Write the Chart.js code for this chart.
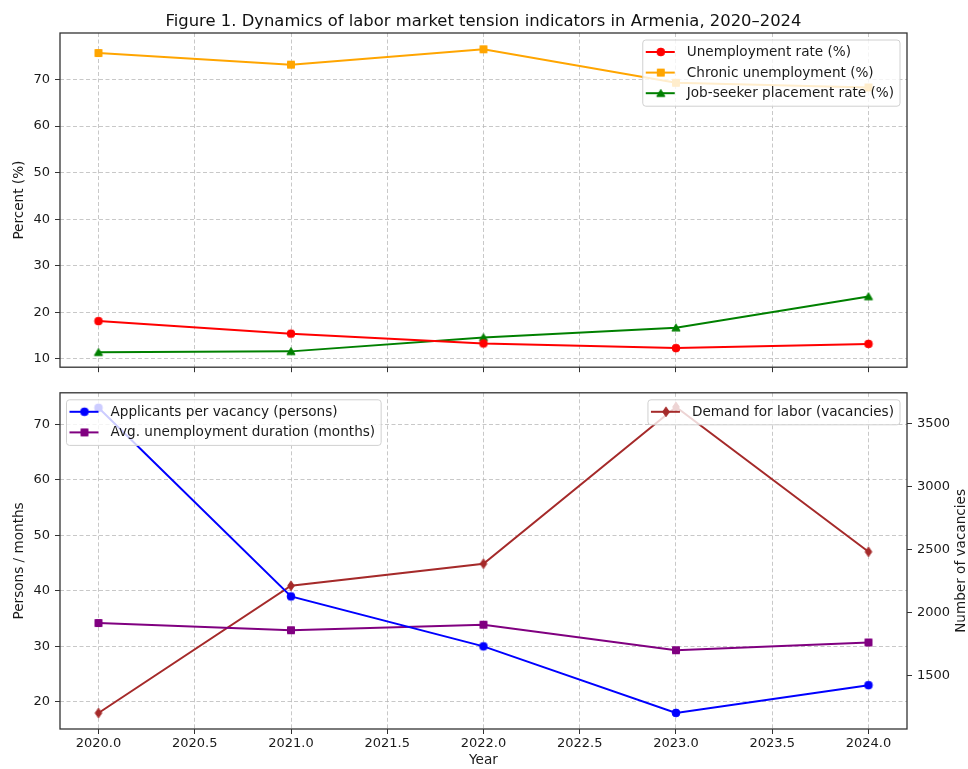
<!DOCTYPE html>
<html lang="en">
<head>
<meta charset="UTF-8"/>
<title>Labor market tension indicators, Armenia</title>
<style>
  html, body { margin: 0; padding: 0; background: #fff; }
  #wrap { position: relative; width: 968px; height: 769px; }
  canvas { position: absolute; left: 0; }
  #topChart { top: 0; }
  #bottomChart { top: 380px; }
</style>
</head>
<body>
<div id="wrap">
  <canvas id="topChart" width="968" height="380"></canvas>
  <canvas id="bottomChart" width="968" height="389"></canvas>
</div>
<script src="https://cdn.jsdelivr.net/npm/chart.js@4.4.1/dist/chart.umd.min.js"></script>
<script>
// values
const years = [2020, 2021, 2022, 2023, 2024]
const unemploymentRate = [18.1, 15.4, 13.3, 12.3, 13.2]
const chronicUnemployment = [75.7, 73.2, 76.5, 69.3, 68.3]
const placementRate = [11.4, 11.6, 14.6, 16.7, 23.4]
const applicantsPerVacancy = [73, 39, 30, 18, 23]
const avgDuration = [34.2, 32.9, 33.9, 29.3, 30.7]
const laborDemand = [1200, 2210, 2385, 3630, 2480]

const xTicks = [2020, 2020.5, 2021, 2021.5, 2022, 2022.5, 2023, 2023.5, 2024]
const percentTicks = [10, 20, 30, 40, 50, 60, 70]
const personsTicks = [20, 30, 40, 50, 60, 70]
const vacancyTicks = [1500, 2000, 2500, 3000, 3500]

const FONT = '"DejaVu Sans", sans-serif'
const LABEL_SIZE = 13.6
Chart.defaults.font.family = FONT
Chart.defaults.font.size = 13
Chart.defaults.color = '#1a1a1a'

// matplotlib-like markers as small canvases (used by points and legends)
function marker(shape, color) {
  const c = document.createElement('canvas')
  c.width = 12; c.height = 12
  const g = c.getContext('2d')
  g.fillStyle = color; g.strokeStyle = color; g.lineWidth = 1
  g.beginPath()
  if (shape === 'circle') g.arc(6, 6, 3.9, 0, Math.PI * 2)
  else if (shape === 'square') g.rect(2.5, 2.5, 7, 7)
  else if (shape === 'triangle') { g.moveTo(6, 2.3); g.lineTo(10.1, 9.2); g.lineTo(1.9, 9.2); g.closePath() }
  else if (shape === 'diamond') { g.moveTo(6, 1.2); g.lineTo(9.3, 6); g.lineTo(6, 10.8); g.lineTo(2.7, 6); g.closePath() }
  g.fill(); g.stroke()
  return c
}

function series(label, values, color, shape, axis) {
  return {
    label,
    data: years.map((x, i) => ({x, y: values[i]})),
    borderColor: color,
    backgroundColor: color,
    borderWidth: 2,
    pointStyle: marker(shape, color),
    pointRadius: 4,
    tension: 0,
    yAxisID: axis || 'y'
  }
}

const gridStyle = {
  color: 'rgba(176,176,176,0.7)',
  lineWidth: 1,
  tickColor: '#333',
  tickLength: 5,
  tickWidth: 1,
  tickBorderDash: []
}
// in v4 the grid line dash comes from border.dash
const dashedBorder = {display: false, dash: [4, 2.5]}

function setTicks(list) {
  return scale => { scale.ticks = list.map(v => ({value: v})) }
}

// full box around the plot, like matplotlib spines
const frame = {
  id: 'frame',
  afterDatasetsDraw(chart) {
    const {ctx, chartArea: a} = chart
    ctx.save()
    ctx.strokeStyle = '#333'
    ctx.lineWidth = 1.3
    ctx.strokeRect(a.left, a.top, a.right - a.left, a.bottom - a.top)
    ctx.restore()
  }
}

// figure title, centred over the plot area like an axes title
const axesTitle = {
  id: 'axesTitle',
  afterDraw(chart, args, opts) {
    if (!opts.text) return
    const {ctx, chartArea: a} = chart
    ctx.save()
    ctx.font = opts.size + 'px ' + FONT
    ctx.fillStyle = '#111'
    ctx.textAlign = 'center'
    ctx.textBaseline = 'alphabetic'
    ctx.fillText(opts.text, (a.left + a.right) / 2, opts.baseline)
    ctx.restore()
  }
}

// legend boxes drawn inside the plot area
const mplLegend = {
  id: 'mplLegend',
  afterDraw(chart, args, opts) {
    const {ctx, chartArea: a} = chart
    ctx.save()
    ctx.font = LABEL_SIZE + 'px ' + FONT
    for (const box of opts.boxes || []) {
      const items = box.items.map(i => chart.data.datasets[i])
      const textW = Math.max(...items.map(d => ctx.measureText(d.label).width))
      const w = 44 + textW + 6
      const h = 25 + (items.length - 1) * 20.6
      const x = box.loc === 'left' ? a.left + 6.5 : a.right - 7 - w
      const y = a.top + 7
      ctx.beginPath()
      ctx.roundRect(x, y, w, h, 3)
      ctx.fillStyle = 'rgba(255,255,255,0.8)'
      ctx.fill()
      ctx.strokeStyle = '#d0d0d0'
      ctx.lineWidth = 1
      ctx.stroke()
      items.forEach((d, i) => {
        const cy = y + 12 + i * 20.6
        ctx.beginPath()
        ctx.moveTo(x + 3, cy)
        ctx.lineTo(x + 32, cy)
        ctx.strokeStyle = d.borderColor
        ctx.lineWidth = 2
        ctx.stroke()
        const m = d.pointStyle
        ctx.drawImage(m, x + 18 - m.width / 2, cy - m.height / 2)
        ctx.fillStyle = '#1a1a1a'
        ctx.textBaseline = 'middle'
        ctx.fillText(d.label, x + 44, cy + 0.5)
      })
    }
    ctx.restore()
  }
}

// right axis title reads bottom to top, as in the figure
const rightTitle = {
  id: 'rightTitle',
  afterDraw(chart, args, opts) {
    if (!opts.text) return
    const {ctx, chartArea: a} = chart
    ctx.save()
    ctx.translate(opts.x, (a.top + a.bottom) / 2)
    ctx.rotate(-Math.PI / 2)
    ctx.font = LABEL_SIZE + 'px ' + FONT
    ctx.fillStyle = '#1a1a1a'
    ctx.textAlign = 'center'
    ctx.textBaseline = 'middle'
    ctx.fillText(opts.text, 0, 0)
    ctx.restore()
  }
}

const xScale = (showLabels, height) => ({
  type: 'linear',
  min: 2019.8,
  max: 2024.2,
  afterBuildTicks: setTicks(xTicks),
  afterFit: s => { s.height = height },
  border: dashedBorder,
  grid: gridStyle,
  ticks: {display: showLabels, padding: 2, maxRotation: 0, callback: v => v.toFixed(1)},
  title: {display: showLabels, text: 'Year', font: {size: LABEL_SIZE}, padding: {top: 0, bottom: 0}}
})

new Chart(document.getElementById('topChart'), {
  type: 'line',
  data: {
    datasets: [
      series('Unemployment rate (%)', unemploymentRate, '#ff0000', 'circle'),
      series('Chronic unemployment (%)', chronicUnemployment, '#ffa500', 'square'),
      series('Job-seeker placement rate (%)', placementRate, '#008000', 'triangle')
    ]
  },
  options: {
    responsive: false,
    animation: false,
    layout: {padding: {left: 0, right: 61, top: 33, bottom: 0}},
    scales: {
      x: xScale(false, 8),
      y: {
        min: 8.2,
        max: 80,
        afterBuildTicks: setTicks(percentTicks),
        afterFit: s => { s.width = 60 },
        border: dashedBorder,
        grid: gridStyle,
        ticks: {padding: 5, callback: v => String(v)},
        title: {display: true, text: 'Percent (%)', font: {size: LABEL_SIZE}, padding: {top: 11, bottom: 0}}
      }
    },
    plugins: {
      legend: {display: false},
      tooltip: {enabled: false},
      axesTitle: {
        text: 'Figure 1. Dynamics of labor market tension indicators in Armenia, 2020\u20132024',
        size: 16.4,
        baseline: 25.5
      },
      mplLegend: {boxes: [{loc: 'right', items: [0, 1, 2]}]}
    }
  },
  plugins: [frame, mplLegend, axesTitle]
})

new Chart(document.getElementById('bottomChart'), {
  type: 'line',
  data: {
    datasets: [
      series('Applicants per vacancy (persons)', applicantsPerVacancy, '#0000ff', 'circle'),
      series('Avg. unemployment duration (months)', avgDuration, '#800080', 'square'),
      series('Demand for labor (vacancies)', laborDemand, '#a52a2a', 'diamond', 'y2')
    ]
  },
  options: {
    responsive: false,
    animation: false,
    layout: {padding: {left: 0, right: 0, top: 11, bottom: 0}},
    scales: {
      x: xScale(true, 40),
      y: {
        position: 'left',
        min: 15.1,
        max: 75.7,
        afterBuildTicks: setTicks(personsTicks),
        afterFit: s => { s.width = 60 },
        border: dashedBorder,
        grid: gridStyle,
        ticks: {padding: 5, callback: v => String(v)},
        title: {display: true, text: 'Persons / months', font: {size: LABEL_SIZE}, padding: {top: 11, bottom: 0}}
      },
      y2: {
        position: 'right',
        min: 1073,
        max: 3742,
        afterBuildTicks: setTicks(vacancyTicks),
        afterFit: s => { s.width = 61 },
        border: {display: false},
        grid: Object.assign({}, gridStyle, {drawOnChartArea: false}),
        ticks: {padding: 5, callback: v => String(v)}
      }
    },
    plugins: {
      legend: {display: false},
      tooltip: {enabled: false},
      mplLegend: {boxes: [{loc: 'left', items: [0, 1]}, {loc: 'right', items: [2]}]},
      rightTitle: {text: 'Number of vacancies', x: 961}
    }
  },
  plugins: [frame, mplLegend, rightTitle]
})
</script>
</body>
</html>
